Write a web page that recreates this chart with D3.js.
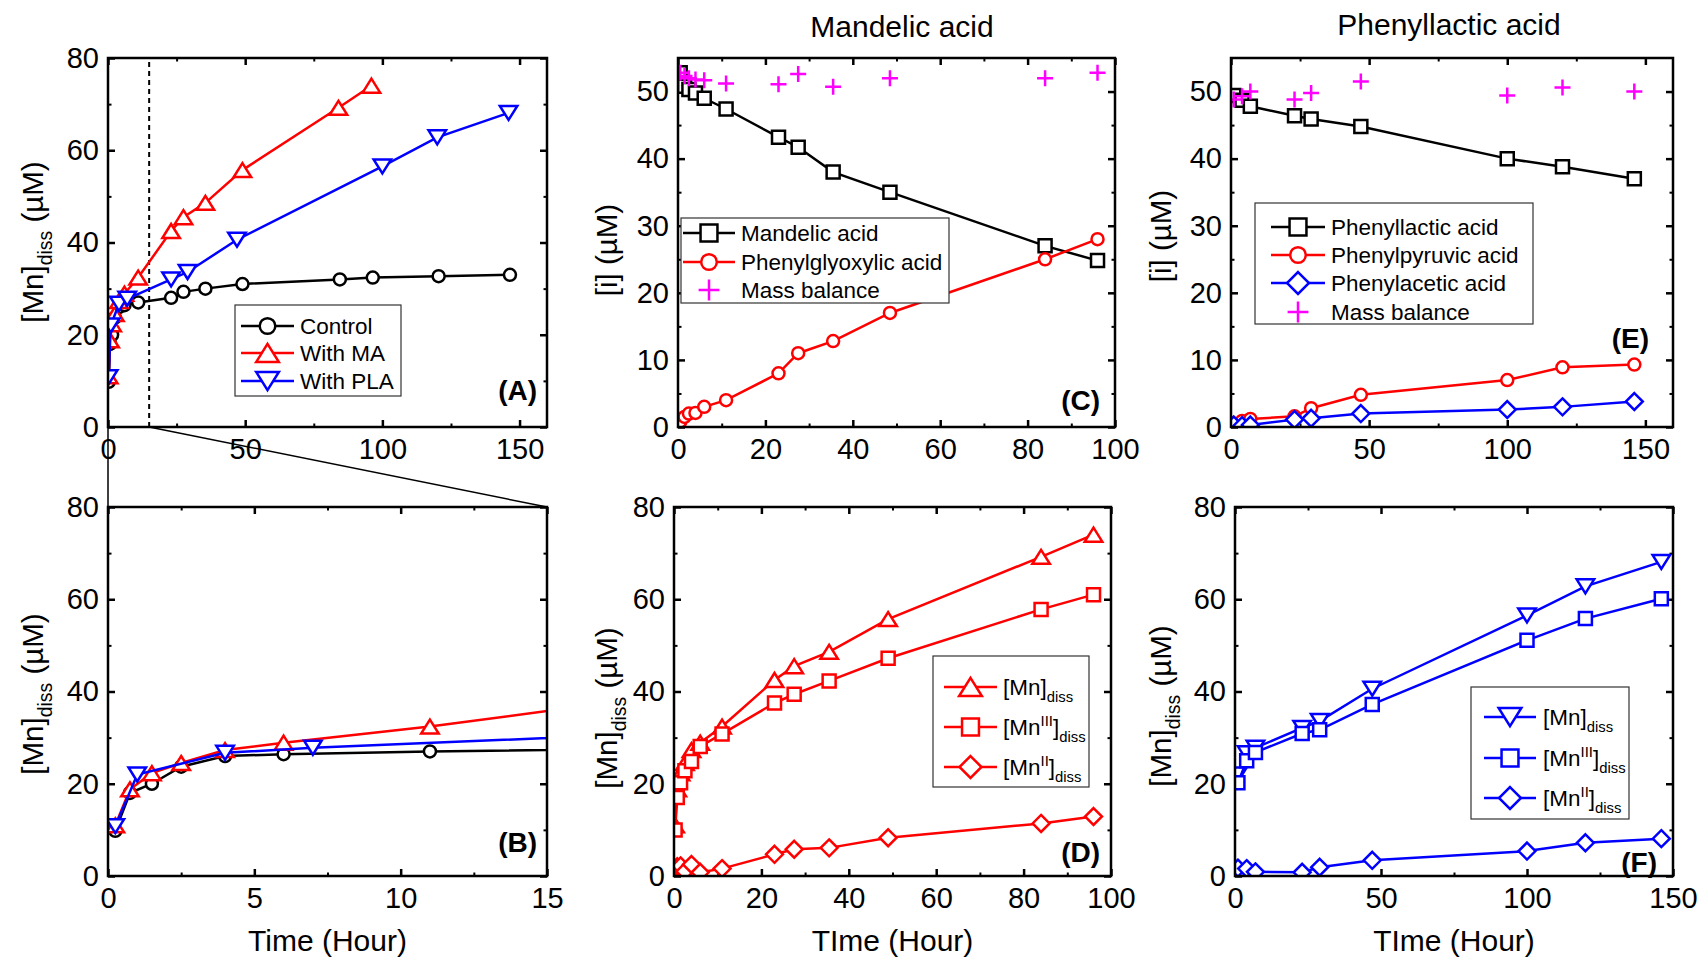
<!DOCTYPE html>
<html>
<head>
<meta charset="utf-8">
<script src="https://cdn.jsdelivr.net/npm/d3@7"></script>
<style>
  body { margin: 0; background: #fff; }
  svg { display: block; font-family: "Liberation Sans", Arial, sans-serif; }
</style>
</head>
<body>
<script>
// ---- data ----
// (A)/(B) dissolved Mn: control, with mandelic acid (MA), with phenyllactic acid (PLA)
const ctrlTime = [0.25, 0.75, 1.5, 2.5, 4, 6, 11, 23, 27.5, 35.5, 49, 84.5, 96.5, 120.5, 146.5];
const ctrlMn   = [9.8, 18, 20, 23.7, 26, 26.4, 27, 28, 29.3, 30, 31, 32, 32.4, 32.7, 33];
const maTime   = [0.25, 0.75, 1.5, 2.5, 4, 6, 11, 23, 27.5, 35.5, 49, 84, 96];
const maMn     = [11, 18.8, 22.3, 24.5, 27.3, 28.9, 32.4, 42.5, 45.5, 48.6, 55.7, 69.2, 74];
const maMn3    = [10, 17, 20.2, 22.8, 24.8, 28.1, 30.8, 37.5, 39.4, 42.3, 47.2, 57.8, 61];
const maMn2    = [0.6, 2, 2.2, 1, 2.5, 0.8, 1.6, 4.7, 5.8, 6.1, 8.3, 11.4, 12.9];
const plaTime  = [0.25, 1, 4, 7, 23, 29, 47, 100, 120, 146];
const plaMn    = [10.8, 22, 26.7, 27.8, 32, 33.6, 40.6, 56.5, 62.8, 68.1];
// (F) species, sampled from 1 h
const plaSpecTime = [1, 4, 7, 23, 29, 47, 100, 120, 146];
const plaMnF   = [22, 26.6, 27.8, 32.1, 33.6, 40.6, 56.5, 62.8, 68.1];
const plaMn3   = [20.2, 25, 26.8, 30.9, 31.7, 37.2, 51.1, 55.8, 60.1];
const plaMn2   = [1.7, 1.6, 0.9, 0.8, 1.9, 3.4, 5.4, 7.2, 8.1];
// (C) mandelic acid system
const mdTime   = [0.5, 1.5, 2.5, 4, 6, 11, 23, 27.5, 35.5, 48.5, 84, 96];
const mdMA     = [52.8, 50.8, 50.3, 49.8, 49, 47.4, 43.2, 41.7, 38, 35, 27, 24.8];
const mdPGA    = [0.8, 1.5, 2, 2.1, 3, 4, 8, 11, 12.8, 17, 25, 28];
const mdMass   = [52.8, 52.3, 52, 51.8, 51.7, 51.2, 51.1, 52.6, 50.7, 52, 52, 52.8];
// (E) phenyllactic acid system
const plTime   = [1, 4, 7, 23, 29, 47, 100, 120, 146];
const plPLA    = [49.4, 48.7, 47.8, 46.4, 45.9, 44.8, 40, 38.8, 37];
const plPPA    = [0.5, 0.9, 1.2, 1.6, 2.8, 4.8, 7, 8.9, 9.3];
const plPAA    = [0.3, 0.2, 0.3, 1.1, 1.3, 2, 2.6, 3, 3.8];
const plMass   = [48.8, 49.3, 50, 48.8, 49.8, 51.5, 49.4, 50.6, 50];

// tick values
const ticks0to150 = [0, 50, 100, 150], minor0to150 = [25, 75, 125];
const ticks0to15 = [0, 5, 10, 15], minor0to15 = [2.5, 7.5, 12.5];
const ticks0to100 = [0, 20, 40, 60, 80, 100], minor0to100 = [10, 30, 50, 70, 90];
const ticksMn = [0, 20, 40, 60, 80], minorMn = [10, 30, 50, 70];
const ticksI = [0, 10, 20, 30, 40, 50], minorI = [5, 15, 25, 35, 45];

const RED = "#ff0000", BLUE = "#0000ff", MAG = "#ff00ff", BLK = "#000";
const MN = [["[Mn]"], ["diss", "sub"]];
const MN3 = [["[Mn"], ["III", "sup"], ["]"], ["diss", "sub"]];
const MN2 = [["[Mn"], ["II", "sup"], ["]"], ["diss", "sub"]];

const svg = d3.select("body").append("svg").attr("width", 1698).attr("height", 960);
const defs = svg.append("defs");

function markerPath(shape, s) {
  switch (shape) {
    case "square":  return `M${-s},${-s}H${s}V${s}H${-s}Z`;
    case "up":      return `M0,${-s}L${s * 1.25},${s}L${-s * 1.25},${s}Z`;
    case "down":    return `M0,${s}L${s * 1.25},${-s}L${-s * 1.25},${-s}Z`;
    case "diamond": return `M0,${-s * 1.3}L${s * 1.3},0L0,${s * 1.3}L${-s * 1.3},0Z`;
    case "plus":    return `M${-s},0H${s}M0,${-s}V${s}`;
  }
}
const msize = { circle: 6, square: 6.5, up: 7, down: 7, diamond: 6.5, plus: 8 };

function marker(g, shape, scale, color) {
  const s = msize[shape] * scale;
  if (shape === "circle")
    return g.append("circle").attr("r", s).attr("fill", "#fff")
      .attr("stroke", color).attr("stroke-width", 2.5);
  return g.append("path").attr("d", markerPath(shape, s))
    .attr("fill", shape === "plus" ? "none" : "#fff")
    .attr("stroke", color).attr("stroke-width", 2.5);
}

// text with sub/superscripts
function rich(text, parts, base) {
  let shift = 0;
  parts.forEach(([str, kind]) => {
    const target = kind === "sub" ? 0.3 : kind === "sup" ? -0.42 : 0;
    const ts = text.append("tspan").text(str).attr("dy", (target - shift) * base);
    if (kind) ts.attr("font-size", base * 0.66);
    shift = target;
  });
  return text;
}

function panel(p) {
  const x = d3.scaleLinear().domain(p.xDomain).range([p.x0, p.x1]);
  const y = d3.scaleLinear().domain(p.yDomain).range([p.y1, p.y0]);
  const g = svg.append("g");
  const clipId = "clip" + p.id;
  defs.append("clipPath").attr("id", clipId).append("rect")
    .attr("x", p.x0).attr("y", p.y0).attr("width", p.x1 - p.x0).attr("height", p.y1 - p.y0);

  const sides = [
    [d3.axisBottom, x, `translate(0,${p.y1})`, true, true],
    [d3.axisTop, x, `translate(0,${p.y0})`, false, true],
    [d3.axisLeft, y, `translate(${p.x0},0)`, true, false],
    [d3.axisRight, y, `translate(${p.x1},0)`, false, false]
  ];
  sides.forEach(([ax, sc, tr, lab, horiz]) => {
    g.append("g").attr("transform", tr)
      .call(ax(sc).tickValues(horiz ? p.xMinor : p.yMinor).tickSizeInner(-3.5).tickSizeOuter(0).tickFormat(""))
      .call(a => a.select(".domain").remove())
      .selectAll("line").attr("stroke-width", 2);
    g.append("g").attr("transform", tr)
      .call(ax(sc).tickValues(horiz ? p.xTicks : p.yTicks).tickSizeInner(-7).tickSizeOuter(0)
        .tickPadding(horiz ? 11 : 9).tickFormat(lab ? d3.format("d") : ""))
      .attr("font-size", 29).attr("font-family", null)
      .call(a => a.select(".domain").remove())
      .selectAll("line").attr("stroke-width", 2.5);
  });

  if (p.extra) p.extra(g, x, y);

  const line = d3.line().x(d => x(d[0])).y(d => y(d[1]));
  p.series.forEach(s => {
    const pts = s.t.map((t, i) => [t, s.v[i]]);
    const sg = g.append("g").attr("clip-path", `url(#${clipId})`);
    if (!s.noLine)
      sg.append("path").datum(pts).attr("d", line).attr("fill", "none")
        .attr("stroke", s.color).attr("stroke-width", 2.5);
    sg.selectAll(null).data(pts).join("g")
      .attr("transform", d => `translate(${x(d[0])},${y(d[1])})`)
      .each(function () { marker(d3.select(this), s.shape, 1, s.color); });
  });

  g.append("rect").attr("x", p.x0).attr("y", p.y0)
    .attr("width", p.x1 - p.x0).attr("height", p.y1 - p.y0)
    .attr("fill", "none").attr("stroke", "#000").attr("stroke-width", 2.5);

  if (p.legend) {
    const L = p.legend;
    g.append("rect").attr("x", L.x0).attr("y", L.y0)
      .attr("width", L.x1 - L.x0).attr("height", L.y1 - L.y0)
      .attr("fill", "#fff").attr("stroke", "#333").attr("stroke-width", 1.2);
    L.rows.forEach((yy, i) => {
      const s = p.series[i];
      if (!s.noLine)
        g.append("line").attr("x1", L.lx0).attr("x2", L.lx1).attr("y1", yy).attr("y2", yy)
          .attr("stroke", s.color).attr("stroke-width", 2.5);
      marker(g.append("g").attr("transform", `translate(${(L.lx0 + L.lx1) / 2},${yy})`), s.shape, 1.3, s.color);
      rich(g.append("text").attr("x", L.tx).attr("y", yy + 8).attr("font-size", 22.5), s.label, 22.5);
    });
  }

  // axis titles
  rich(g.append("text").attr("text-anchor", "middle")
      .attr("transform", `translate(${p.yTitleX},${p.yTitleY}) rotate(-90)`)
      .attr("font-size", 29.5), p.yTitle, 29.5);
  if (p.xTitle)
    g.append("text").attr("x", (p.x0 + p.x1) / 2).attr("y", 951)
      .attr("text-anchor", "middle").attr("font-size", 30).text(p.xTitle);
  if (p.title)
    g.append("text").attr("x", p.title[1]).attr("y", p.title[2])
      .attr("text-anchor", "middle").attr("font-size", 30).text(p.title[0]);
  g.append("text").attr("x", p.tag[1]).attr("y", p.tag[2]).attr("text-anchor", "end")
    .attr("font-size", 28).attr("font-weight", "bold").text(p.tag[0]);
  return { x, y };
}

const MN_TITLE = [["[Mn]"], ["diss", "sub"], ["\u00a0(\u00b5M)"]];
const I_TITLE = [["[i]\u00a0(\u00b5M)"]];

const A = panel({
  id: "A", x0: 108, x1: 547, y0: 58, y1: 427,
  xDomain: [0, 160], yDomain: [0, 80],
  xTicks: ticks0to150, xMinor: minor0to150, yTicks: ticksMn, yMinor: minorMn,
  yTitle: MN_TITLE, yTitleX: 43, yTitleY: 242,
  tag: ["(A)", 537, 400],
  extra: (g, x, y) => g.append("line").attr("x1", x(15)).attr("x2", x(15))
    .attr("y1", y(0)).attr("y2", y(80)).attr("stroke", "#000")
    .attr("stroke-width", 2).attr("stroke-dasharray", "5,4"),
  series: [
    { t: ctrlTime, v: ctrlMn, color: BLK, shape: "circle", label: [["Control"]] },
    { t: maTime, v: maMn, color: RED, shape: "up", label: [["With MA"]] },
    { t: plaTime, v: plaMn, color: BLUE, shape: "down", label: [["With PLA"]] }
  ],
  legend: { x0: 235, x1: 401, y0: 305, y1: 396, lx0: 241, lx1: 294, tx: 300, rows: [326, 353, 381] }
});

const B = panel({
  id: "B", x0: 108, x1: 547, y0: 507, y1: 876,
  xDomain: [0, 15], yDomain: [0, 80],
  xTicks: ticks0to15, xMinor: minor0to15, yTicks: ticksMn, yMinor: minorMn,
  yTitle: MN_TITLE, yTitleX: 43, yTitleY: 694,
  xTitle: "Time (Hour)",
  tag: ["(B)", 537, 852],
  series: [
    { t: ctrlTime, v: ctrlMn, color: BLK, shape: "circle" },
    { t: maTime, v: maMn, color: RED, shape: "up" },
    { t: plaTime, v: plaMn, color: BLUE, shape: "down" }
  ]
});

// zoom connectors between (A) and (B)
svg.append("g").attr("stroke", "#000").attr("stroke-width", 1.5)
  .call(g => g.append("line").attr("x1", A.x(15)).attr("y1", A.y(0)).attr("x2", B.x(15)).attr("y2", B.y(80)))
  .call(g => g.append("line").attr("x1", A.x(0)).attr("y1", A.y(0)).attr("x2", B.x(0)).attr("y2", B.y(80)));

panel({
  id: "C", x0: 678, x1: 1115, y0: 58, y1: 427,
  xDomain: [0, 100], yDomain: [0, 55],
  xTicks: ticks0to100, xMinor: minor0to100, yTicks: ticksI, yMinor: minorI,
  yTitle: I_TITLE, yTitleX: 617, yTitleY: 250,
  title: ["Mandelic acid", 902, 37],
  tag: ["(C)", 1100, 410],
  series: [
    { t: mdTime, v: mdMA, color: BLK, shape: "square", label: [["Mandelic acid"]] },
    { t: mdTime, v: mdPGA, color: RED, shape: "circle", label: [["Phenylglyoxylic acid"]] },
    { t: mdTime, v: mdMass, color: MAG, shape: "plus", noLine: true, label: [["Mass balance"]] }
  ],
  legend: { x0: 681, x1: 949, y0: 218, y1: 303, lx0: 683, lx1: 735, tx: 741, rows: [233, 262, 290] }
});

panel({
  id: "D", x0: 674, x1: 1111, y0: 507, y1: 876,
  xDomain: [0, 100], yDomain: [0, 80],
  xTicks: ticks0to100, xMinor: minor0to100, yTicks: ticksMn, yMinor: minorMn,
  yTitle: MN_TITLE, yTitleX: 617, yTitleY: 708,
  xTitle: "TIme (Hour)",
  tag: ["(D)", 1100, 862],
  series: [
    { t: maTime, v: maMn, color: RED, shape: "up", label: MN },
    { t: maTime, v: maMn3, color: RED, shape: "square", label: MN3 },
    { t: maTime, v: maMn2, color: RED, shape: "diamond", label: MN2 }
  ],
  legend: { x0: 933, x1: 1089, y0: 656, y1: 787, lx0: 944, lx1: 997, tx: 1003, rows: [687, 727, 767] }
});

panel({
  id: "E", x0: 1231, x1: 1673, y0: 58, y1: 427,
  xDomain: [0, 160], yDomain: [0, 55],
  xTicks: ticks0to150, xMinor: minor0to150, yTicks: ticksI, yMinor: minorI,
  yTitle: I_TITLE, yTitleX: 1171, yTitleY: 236,
  title: ["Phenyllactic acid", 1449, 35],
  tag: ["(E)", 1649, 348],
  series: [
    { t: plTime, v: plPLA, color: BLK, shape: "square", label: [["Phenyllactic acid"]] },
    { t: plTime, v: plPPA, color: RED, shape: "circle", label: [["Phenylpyruvic acid"]] },
    { t: plTime, v: plPAA, color: BLUE, shape: "diamond", label: [["Phenylacetic acid"]] },
    { t: plTime, v: plMass, color: MAG, shape: "plus", noLine: true, label: [["Mass balance"]] }
  ],
  legend: { x0: 1255, x1: 1533, y0: 203, y1: 324, lx0: 1271, lx1: 1325, tx: 1331, rows: [227, 255, 283, 312] }
});

panel({
  id: "F", x0: 1235, x1: 1673, y0: 507, y1: 876,
  xDomain: [0, 150], yDomain: [0, 80],
  xTicks: ticks0to150, xMinor: minor0to150, yTicks: ticksMn, yMinor: minorMn,
  yTitle: MN_TITLE, yTitleX: 1171, yTitleY: 706,
  xTitle: "TIme (Hour)",
  tag: ["(F)", 1657, 872],
  series: [
    { t: plaSpecTime, v: plaMnF, color: BLUE, shape: "down", label: MN },
    { t: plaSpecTime, v: plaMn3, color: BLUE, shape: "square", label: MN3 },
    { t: plaSpecTime, v: plaMn2, color: BLUE, shape: "diamond", label: MN2 }
  ],
  legend: { x0: 1471, x1: 1629, y0: 687, y1: 819, lx0: 1484, lx1: 1536, tx: 1543, rows: [717, 758, 798] }
});
</script>
</body>
</html>
